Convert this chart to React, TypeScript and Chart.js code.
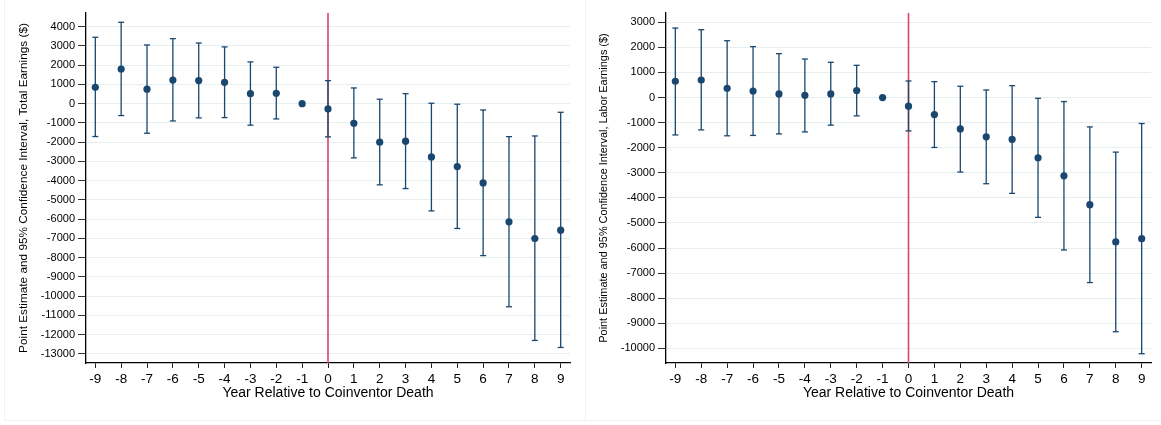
import React, { useEffect, useRef } from "react";
import { Chart, registerables } from "chart.js";

Chart.register(...registerables);

// ---------- data ----------
const years = [-9, -8, -7, -6, -5, -4, -3, -2, -1, 0, 1, 2, 3, 4, 5, 6, 7, 8, 9];
const xTickLabels = ["-9", "-8", "-7", "-6", "-5", "-4", "-3", "-2", "-1", "0", "1", "2", "3", "4", "5", "6", "7", "8", "9"];

const totalPoint = [850, 1800, 750, 1230, 1200, 1110, 520, 540, 0, -275, -1020, -2005, -1950, -2770, -3270, -4120, -6145, -7010, -6580];
const totalUpper = [3450, 4230, 3050, 3380, 3150, 2950, 2170, 1890, null, 1195, 815, 230, 520, 20, -30, -330, -1715, -1680, -450];
const totalLower = [-1710, -620, -1540, -900, -740, -725, -1120, -795, null, -1730, -2820, -4220, -4415, -5575, -6490, -7900, -10560, -12310, -12675];

const laborPoint = [650, 700, 370, 260, 145, 90, 145, 280, 0, -345, -675, -1250, -1565, -1670, -2400, -3120, -4270, -5755, -5625];
const laborUpper = [2770, 2705, 2265, 2030, 1750, 1535, 1405, 1285, null, 660, 635, 450, 300, 475, -30, -160, -1170, -2175, -1035];
const laborLower = [-1490, -1290, -1525, -1510, -1450, -1370, -1100, -730, null, -1330, -1990, -2970, -3435, -3820, -4775, -6075, -7375, -9335, -10210];

const totalYTicks = [4000, 3000, 2000, 1000, 0, -1000, -2000, -3000, -4000, -5000, -6000, -7000, -8000, -9000, -10000, -11000, -12000, -13000];
const laborYTicks = [3000, 2000, 1000, 0, -1000, -2000, -3000, -4000, -5000, -6000, -7000, -8000, -9000, -10000];

const xTitle = "Year Relative to Coinventor Death";
const totalYTitle = "Point Estimate and 95% Confidence Interval, Total Earnings ($)";
const laborYTitle = "Point Estimate and 95% Confidence Interval, Labor Earnings ($)";

const eventYear = 0;

// ---------- styles ----------
const NAVY = "#1a476f";
const RED = "#d94869";
const GRID = "#e6eeee";
const FONT = "'Liberation Sans', Arial, Helvetica, sans-serif";

function makeConfig(
  point: number[],
  upper: (number | null)[],
  lower: (number | null)[],
  yTicks: number[],
  yMin: number,
  yMax: number,
  yTitle: string,
  yTitleSize: number
): any {
  const whiskers: any[] = [];
  const caps: any[] = [];
  years.forEach((x, i) => {
    const hi = upper[i];
    const lo = lower[i];
    if (hi == null || lo == null) return;
    whiskers.push({ x, y: lo }, { x, y: hi }, { x, y: null });
    caps.push({ x, y: hi }, { x, y: lo });
  });
  const pts = years.map((x, i) => ({ x, y: point[i] }));

  return {
    type: "scatter",
    data: {
      datasets: [
        {
          type: "scatter",
          data: pts,
          pointRadius: 3.6,
          pointHoverRadius: 3.6,
          pointBackgroundColor: NAVY,
          pointBorderColor: NAVY,
          pointBorderWidth: 0,
          order: 0,
        },
        {
          type: "scatter",
          data: caps,
          pointStyle: "line",
          pointRadius: 3,
          pointHoverRadius: 3,
          pointBorderColor: NAVY,
          pointBorderWidth: 1.3,
          order: 1,
        },
        {
          type: "line",
          data: whiskers,
          borderColor: NAVY,
          borderWidth: 1.3,
          pointRadius: 0,
          spanGaps: false,
          fill: false,
          order: 2,
        },
        {
          type: "line",
          data: [
            { x: eventYear, y: yMax },
            { x: eventYear, y: yMin },
          ],
          borderColor: RED,
          borderWidth: 1.6,
          pointRadius: 0,
          fill: false,
          order: 3,
        },
      ],
    },
    options: {
      animation: false,
      responsive: false,
      devicePixelRatio: 1,
      events: [],
      layout: { padding: { top: 13, right: 10, bottom: 12, left: 0 } },
      plugins: {
        legend: { display: false },
        tooltip: { enabled: false },
      },
      scales: {
        x: {
          type: "linear",
          min: -9.36,
          max: 9.36,
          offset: false,
          afterBuildTicks: (s: any) => {
            s.ticks = years.map((v) => ({ value: v }));
          },
          afterFit: (s: any) => {
            s.height = 50;
          },
          ticks: {
            autoSkip: false,
            maxRotation: 0,
            padding: 3,
            color: "#000",
            font: { family: FONT, size: 13.5 },
            callback: (_v: any, i: number) => xTickLabels[i],
          },
          grid: {
            drawOnChartArea: false,
            drawTicks: true,
            tickLength: 5,
            tickColor: "#222",
            tickWidth: 1,
          },
          border: { display: true, color: "#000", width: 1.3 },
          title: {
            display: true,
            text: xTitle,
            color: "#000",
            font: { family: FONT, size: 14 },
            padding: { top: 0, bottom: 11 },
          },
        },
        y: {
          type: "linear",
          min: yMin,
          max: yMax,
          afterBuildTicks: (s: any) => {
            s.ticks = yTicks.map((v) => ({ value: v }));
          },
          afterFit: (s: any) => {
            s.width = 86;
          },
          ticks: {
            autoSkip: false,
            padding: 3,
            color: "#000",
            font: { family: FONT, size: 11 },
            callback: (v: any) => String(v),
          },
          grid: {
            color: GRID,
            lineWidth: 1,
            drawTicks: true,
            tickLength: 8,
            tickColor: "#333",
            tickWidth: 1,
          },
          border: { display: true, color: "#000", width: 1.3 },
          title: {
            display: true,
            text: yTitle,
            color: "#000",
            font: { family: FONT, size: yTitleSize },
            padding: { top: 17, bottom: 0 },
          },
        },
      },
    },
  };
}

export default function App() {
  const leftRef = useRef<HTMLCanvasElement>(null);
  const rightRef = useRef<HTMLCanvasElement>(null);

  useEffect(() => {
    const c1 = new Chart(
      leftRef.current as HTMLCanvasElement,
      makeConfig(totalPoint, totalUpper, totalLower, totalYTicks, -13483, 4712, totalYTitle, 11.8)
    );
    const c2 = new Chart(
      rightRef.current as HTMLCanvasElement,
      makeConfig(laborPoint, laborUpper, laborLower, laborYTicks, -10581, 3370, laborYTitle, 10.9)
    );
    return () => {
      c1.destroy();
      c2.destroy();
    };
  }, []);

  return (
    <div
      style={{
        position: "absolute",
        left: 0,
        top: 0,
        width: 1161,
        height: 425,
        background: "#fff",
        overflow: "hidden",
      }}
    >
      <div
        style={{
          position: "absolute",
          left: 4,
          top: -1,
          width: 580,
          height: 420,
          border: "1px solid #eef3f3",
        }}
      />
      <div
        style={{
          position: "absolute",
          left: 585,
          top: -1,
          width: 590,
          height: 420,
          border: "1px solid #eef3f3",
        }}
      />
      <canvas
        ref={leftRef}
        width={580}
        height={425}
        style={{ position: "absolute", left: 0, top: 0, width: 580, height: 425 }}
      />
      <canvas
        ref={rightRef}
        width={581}
        height={425}
        style={{ position: "absolute", left: 580, top: 0, width: 581, height: 425 }}
      />
    </div>
  );
}
